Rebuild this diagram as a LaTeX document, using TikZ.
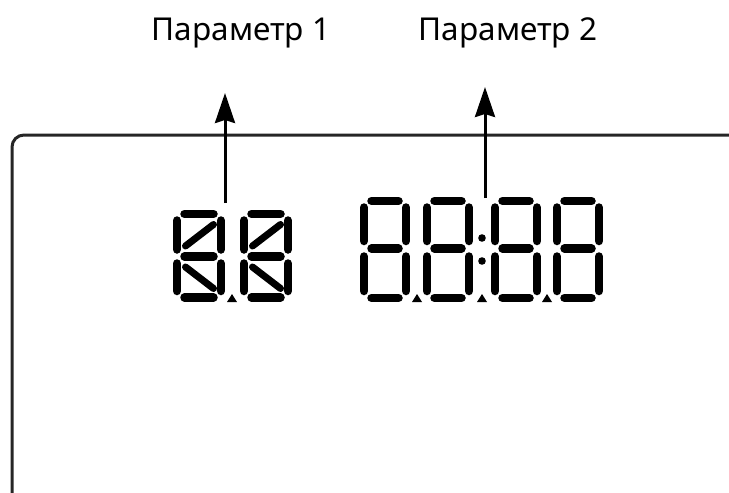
\documentclass[tikz,border=0pt]{standalone}
\usepackage{fontspec}
\setmainfont{Noto Sans}
\usetikzlibrary{arrows.meta}

\tikzset{
  seg/.style={line width=8.5pt, line cap=round, draw=black},
  diagseg/.style={line width=7pt, line cap=round, draw=black},
  dpoint/.style={fill=black},
  lead/.style={line width=3pt, draw=black, -{Stealth[length=30pt,width=20pt,inset=3pt]}},
  frame/.style={line width=3pt, draw=black!85, rounded corners=12pt},
  caption/.style={anchor=base, inner sep=0pt, font=\fontsize{31.5}{36}\selectfont},
  % seven-segment digit, origin at its top left corner
  sevendigit/.pic={
    \draw[seg] (11.5,4) -- (38.5,4);
    \draw[seg] (11.5,51.5) -- (38.5,51.5);
    \draw[seg] (11.5,101) -- (38.5,101);
    \draw[seg] (4,10.5) -- (4,44);
    \draw[seg] (4,59.5) -- (4,94);
    \draw[seg] (46,10.5) -- (46,44);
    \draw[seg] (46,59.5) -- (46,94);
  },
  % alphanumeric digit with the two left diagonals
  alphadigit/.pic={
    \draw[seg] (11.5,4) -- (40.5,4);
    \draw[seg] (11.5,46.5) -- (40.5,46.5);
    \draw[seg] (11.5,87.5) -- (40.5,87.5);
    \draw[seg] (4,10.5) -- (4,39.5);
    \draw[seg] (4,53.5) -- (4,81);
    \draw[seg] (48,10.5) -- (48,39.5);
    \draw[seg] (48,53.5) -- (48,81);
    \draw[diagseg] (12.5,36) -- (40.5,14.5);
    \draw[diagseg] (12.5,57) -- (40.5,78.5);
  },
  dot/.pic={
    \fill[dpoint] (-5,0) -- (5,0) -- (0,-8) -- cycle;
  }
}

\begin{document}
\begin{tikzpicture}[x=1pt,y=-1pt]
  \useasboundingbox (0,0) rectangle (729,493);

  % display outline
  \draw[frame] (729,135) -- (12,135) -- (12,493);

  % captions
  \node[caption] (cap1) at (241,40) {Параметр 1};
  \node[caption] (cap2) at (508,40) {Параметр 2};

  % parameter 1: two alphanumeric digits
  \pic at (173,210) {alphadigit};
  \pic at (240,210) {alphadigit};
  \pic at (232,302) {dot};

  % parameter 2: four seven-segment digits with colon
  \pic at (360,197) {sevendigit};
  \pic at (423,197) {sevendigit};
  \pic at (491,197) {sevendigit};
  \pic at (553,197) {sevendigit};
  \pic at (417,302) {dot};
  \pic at (482,302) {dot};
  \pic at (547,302) {dot};
  \fill (482,238) circle (3.8pt);
  \fill (482,261) circle (3.8pt);

  % leader arrows
  \coordinate (foot1) at (225,203);
  \coordinate (tip1) at (225,93);
  \coordinate (foot2) at (485,198);
  \coordinate (tip2) at (485,87);
  \draw[lead] (foot1) -- (tip1);
  \draw[lead] (foot2) -- (tip2);
\end{tikzpicture}
\end{document}
